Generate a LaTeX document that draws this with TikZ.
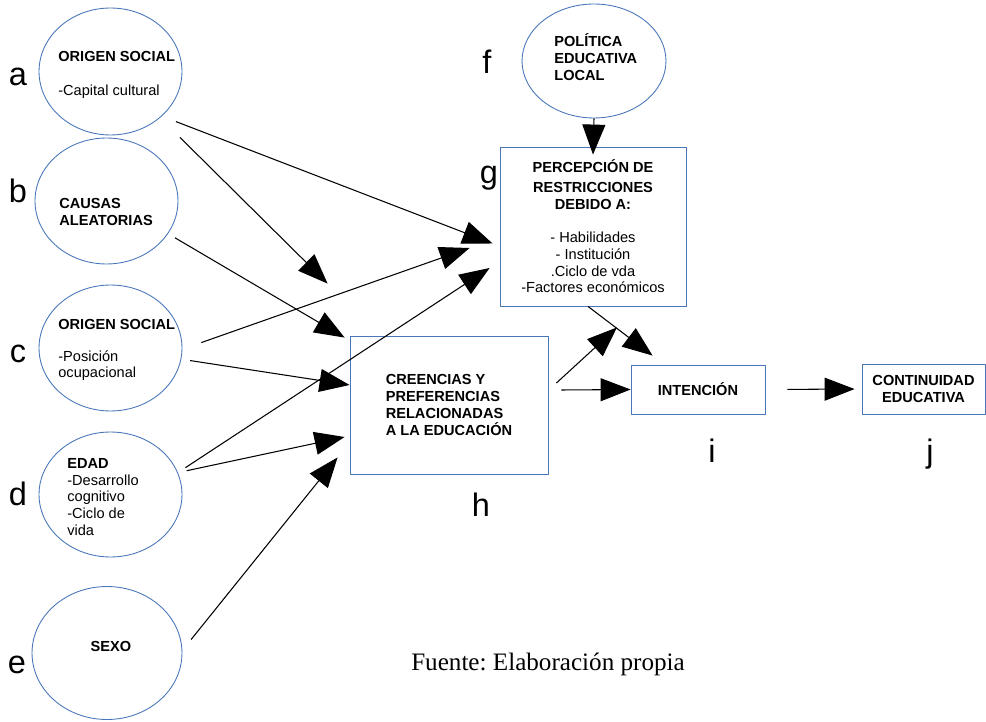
\documentclass[tikz,border=0pt]{standalone}
\usepackage{fontspec}
\setmainfont{Liberation Sans}
\newfontfamily\fuentefont{Liberation Serif}
\usetikzlibrary{arrows.meta,calc,shapes.geometric}
\definecolor{borde}{RGB}{72,118,185}
\newcommand{\txt}{\fontsize{8.3}{9.5}\selectfont}
\frenchspacing
\begin{document}
\begin{tikzpicture}[x=0.02cm, y=-0.02cm, line join=round,
	>={Triangle[length=0.6cm,width=0.46cm]},
	elip/.style={draw=borde, line width=0.5pt, ellipse, inner sep=0pt},
	caja/.style={draw=borde, line width=0.5pt, rectangle, inner sep=0pt, font=\txt, align=center},
	texto/.style={font=\txt, align=left, anchor=west, inner sep=0pt},
	letra/.style={font=\fontsize{18.5}{20}\selectfont, anchor=base, inner sep=0pt},
	flecha/.style={->, line width=0.6pt}]
	\useasboundingbox (0,0) rectangle (986,722);
	% Elipses
	\node[elip, minimum width=2.86cm, minimum height=2.54cm] (a) at (110.5,71.5) {};
	\node[elip, minimum width=2.86cm, minimum height=2.52cm] (b) at (106.5,201) {};
	\node[elip, minimum width=2.86cm, minimum height=2.52cm] (c) at (110.5,348) {};
	\node[elip, minimum width=2.86cm, minimum height=2.50cm] (d) at (110.5,494.5) {};
	\node[elip, minimum width=3.00cm, minimum height=2.66cm] (e) at (107,653) {};
	\node[elip, minimum width=2.88cm, minimum height=2.28cm] (f) at (594,61) {};
	\node[texto] (atext) at (58,75) {\textbf{ORIGEN SOCIAL}\\[9.8pt]-Capital cultural};
	\node[texto] (btext) at (59,212) {\textbf{CAUSAS}\\\textbf{ALEATORIAS}};
	\node[texto] (ctext) at (58,350) {\textbf{ORIGEN SOCIAL}\\[8.5pt]-Posición\\ocupacional};
	\node[texto] (dtext) at (67,497) {\textbf{EDAD}\\-Desarrollo\\cognitivo\\-Ciclo de\\vida};
	\node[font=\txt\bfseries, inner sep=0pt] (etext) at (111,646) {SEXO};
	\node[texto] (ftext) at (554,57) {\textbf{POLÍTICA}\\\textbf{EDUCATIVA}\\\textbf{LOCAL}};
	% Cajas
	\node[caja, minimum width=3.72cm, minimum height=3.18cm] (g) at (593,226.5)
		{\textbf{PERCEPCIÓN DE}\\[1.8pt]\textbf{RESTRICCIONES}\\\textbf{DEBIDO A:}\\[9.5pt]- Habilidades\\- Institución\\.Ciclo de vda\\-Factores económicos};
	\node[caja, align=left, minimum width=3.96cm, minimum height=2.76cm] (h) at (449,405)
		{\textbf{CREENCIAS Y}\\\textbf{PREFERENCIAS}\\\textbf{RELACIONADAS}\\\textbf{A LA EDUCACIÓN}};
	\node[caja, minimum width=2.68cm, minimum height=0.98cm] (i) at (698,389.5) {\textbf{INTENCIÓN}};
	\node[caja, minimum width=2.46cm, minimum height=1.00cm] (j) at (923.5,389) {\textbf{CONTINUIDAD}\\\textbf{EDUCATIVA}};
	% Letras
	\foreach \l/\x/\y in {a/18/86, b/18/203, c/18/362, d/18/505, e/17/673, f/487/74, g/489/184, h/481/516, i/712/462, j/930/462}
		\node[letra] (l\l) at (\x,\y) {\l};
	% Flechas
	\draw[flecha, shorten <=0.3cm] (a.-41) -- ($(g.west)+(-7,17)$);
	\draw[flecha, shorten <=0.56cm] (a.-43) -- ($(h.north west)+(-22,-52)$);
	\draw[flecha, shorten <=0.16cm] (b.-28) -- ($(h.north west)+(-5,2)$);
	\draw[flecha, shorten <=0.4cm] (c.-1) -- ($(g.west)+(-30,21.5)$);
	\draw[flecha, shorten <=0.18cm] (c.-9) -- ($(h.west)+(0,-20)$);
	\draw[flecha, shorten <=0.18cm] (d.18) -- ($(g.west)+(-10,41.5)$);
	\draw[flecha, shorten <=0.18cm] (d.18) -- ($(h.west)+(-5,32)$);
	\draw[flecha, shorten <=0.28cm] (e.2) -- ($(h.south west)+(-12,-17)$);
	\draw[flecha] (f.south) -- ($(g.north)+(0,8)$);
	\draw[flecha] ($(h.east)+(8,-22)$) -- ($(g.south)+(24,21)$);
	\draw[flecha] ($(g.south)+(-5,0)$) -- ($(i.north west)+(22,-9)$);
	\draw[flecha] ($(h.east)+(13,-15)$) -- (i.west);
	\draw[flecha, shorten <=0.44cm, shorten >=0.14cm] (i.east) -- (j.west);
	\node[font=\fuentefont\fontsize{14.3}{17}\selectfont, anchor=base] (fuente) at (548,670) {Fuente: Elaboración propia};
\end{tikzpicture}
\end{document}
